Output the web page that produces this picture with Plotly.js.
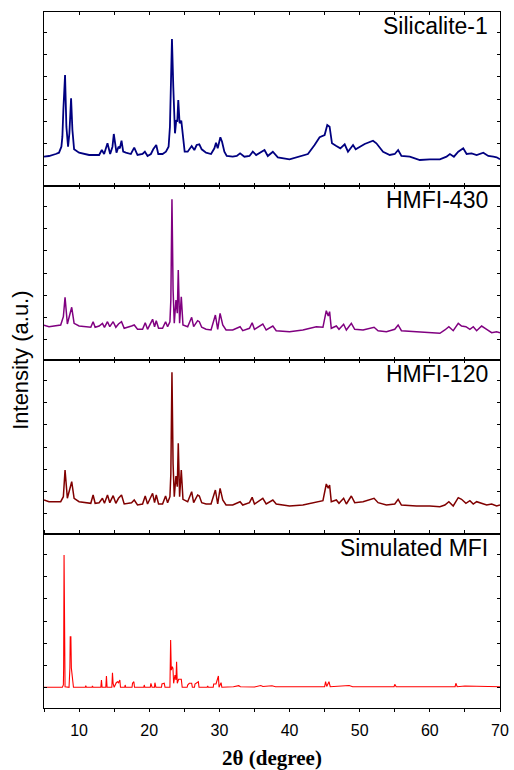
<!DOCTYPE html>
<html>
<head>
<meta charset="utf-8">
<script src="https://cdn.plot.ly/plotly-3.0.1.min.js"></script>
<style>html,body{margin:0;padding:0;background:#fff;}#chart{width:514px;height:770px;}</style>
</head>
<body>
<div id="chart"></div>
<script>
// Sample names (panel labels, top to bottom)
const sampleNames = ["Silicalite-1", "HMFI-430", "HMFI-120", "Simulated MFI"];

// Silicalite-1 pattern: 2θ (degree) and intensity (a.u.)
const sil1X = [5.0,5.71,6.67,7.14,7.48,7.62,7.76,8.0,8.19,8.43,8.62,8.86,9.05,9.29,10.0,11.43,12.86,13.24,13.57,14.05,14.43,14.76,14.95,15.19,15.33,15.62,15.81,16.05,16.29,16.67,17.38,17.86,18.33,19.05,19.38,19.76,20.24,20.57,21.0,21.29,21.9,22.38,22.76,22.95,23.1,23.24,23.43,23.67,23.86,24.0,24.14,24.33,24.57,24.81,25.05,25.48,25.81,26.05,26.43,26.76,27.14,27.48,28.1,28.81,29.29,29.52,29.76,30.14,30.38,30.71,31.05,31.9,32.48,32.95,33.57,34.29,34.76,35.24,36.43,36.9,37.62,38.33,40.0,41.43,42.62,43.57,44.29,45.0,45.38,45.71,46.05,46.67,47.24,47.86,48.33,49.05,49.43,50.71,51.9,52.38,53.33,54.29,55.0,55.48,55.95,57.14,58.57,60.0,61.43,62.38,62.86,63.43,64.05,64.76,65.24,65.95,66.67,67.62,68.33,69.05,69.52,70.0];
const sil1Y = [29.3,30,32,33.3,39.3,49.3,76,111,59.3,39.3,52.7,87.7,56,36.7,33.3,31,31,36,32,42.7,32,39.3,52,36,33.3,39.3,37.7,45.3,34.3,33.3,32,38.3,31,32,34.3,30,32,36.7,41,32,32,34.3,39.3,59.3,112.7,147,99.3,52.7,66,64.3,86,62.7,65.3,46,34.3,34.3,37.7,40,36,41,41.7,36.7,33.3,32,37.7,43.3,37.7,48.7,44.3,34.3,30,29.3,30,32.7,29.3,30,34.3,31,36,30,34.3,28.7,26.7,30,32,41,48.7,51,61,59.3,42.7,40,37.7,41.7,34.3,41,36.7,42,45.3,42.7,34.3,31,32,36,30,29.3,26,26.7,26.7,29.3,32,29.3,34.3,37.7,32,32.7,31,33.3,30,29.3,28.7,26.7];

// HMFI-430 pattern
const h430X = [5.0,5.71,7.38,7.76,8.0,8.33,8.95,9.29,10.0,11.67,12.0,12.29,12.86,13.33,13.62,14.05,14.38,14.86,15.24,15.62,16.05,16.43,17.48,17.86,18.33,19.05,19.43,19.76,20.48,20.76,21.0,21.33,21.9,22.33,22.62,22.95,23.08,23.24,23.4,23.57,23.81,24.0,24.14,24.33,24.57,24.81,25.48,26.05,26.33,26.9,27.14,27.48,28.1,28.81,29.43,29.76,30.1,30.48,30.95,31.9,32.95,33.33,34.29,34.67,35.0,36.19,36.67,37.62,38.1,40.0,41.9,43.81,44.76,45.24,45.52,45.71,45.95,46.67,47.05,47.71,48.1,48.81,49.29,50.48,52.05,52.62,53.81,55.0,55.48,55.95,58.1,60.0,61.43,62.14,62.71,63.33,64.05,64.52,65.14,65.71,66.19,66.67,67.38,68.1,68.81,69.52,70.0];
const h430Y = [34.7,33.3,35,43.3,62.7,36,52.7,36.7,34,32.7,38.3,32.7,34,36.7,32.7,38.3,33.3,38.3,32.7,36,38.3,31.7,34,35,30.7,30.7,37.3,30.7,40.7,33.3,39.3,31.7,31.7,38.3,33.3,38.3,60,160.7,70,36.7,60,46.7,90,36.7,63.3,35,33.3,42.7,33.3,39.3,38.3,32.7,30.7,30,45,30.7,46.7,35,30,30,33.3,29.3,31.7,37.3,30.7,36,30,34,29.3,28.3,30,33.3,32.7,49.3,44,48.3,31.7,34,30.7,35.7,30,36.7,30.7,30,32.7,29.3,28.3,30.7,35,29.3,28.3,27.3,26.7,30,33.3,29.3,36.7,34,33.3,30.7,33.3,29.3,34,30.7,27.3,28.3,27.3];

// HMFI-120 pattern
const h120X = [5.0,5.71,7.38,7.76,8.0,8.33,8.95,9.29,10.0,11.67,12.0,12.29,12.86,13.33,13.62,14.05,14.38,14.86,15.24,15.62,16.05,16.43,17.48,17.86,18.33,19.05,19.43,19.76,20.48,20.76,21.0,21.33,21.9,22.33,22.62,22.95,23.08,23.24,23.4,23.57,23.81,24.0,24.14,24.33,24.57,24.81,25.48,26.05,26.33,26.9,27.14,27.48,28.1,28.81,29.43,29.76,30.1,30.48,30.95,31.9,32.95,33.33,34.29,34.67,35.0,36.19,36.67,37.62,38.1,40.0,41.9,43.81,44.76,45.24,45.52,45.71,45.95,46.67,47.05,47.71,48.1,48.81,49.29,50.48,52.05,52.62,53.81,55.0,55.48,55.95,58.1,60.0,61.43,62.14,62.71,63.33,64.05,64.52,65.14,65.71,66.19,66.67,67.38,68.1,68.81,69.52,70.0];
const h120Y = [34,32.3,32.3,37.3,64,35.7,52.3,35.7,32.3,30.7,39,30.7,31.3,35.7,30.7,39,31.3,38.3,30.7,35.7,39,30,31.3,34,29,30,38,30,40.7,31.3,39,30,30,38,31.3,37.3,60,161.7,70,37.3,58,47.3,90.7,37.3,64,34.7,32.3,42.3,31.3,39,38,31.3,30,30,44,30,45.7,34,29,29,32.3,29,31.3,36.7,30,35.7,30,34,30,28,29,32.3,33.3,50,45.7,49,32.3,34,30.7,35.7,30,38,31.3,32.3,35.7,31.3,29,30,34.7,29,28,28,27.3,29,32.3,28,36.3,34.7,30.7,33.3,30,32.3,30.7,29,30,28,29];

// Simulated MFI pattern
const simX = [5.0,7.62,7.76,7.8,7.86,7.93,8.0,8.57,8.69,8.74,8.83,8.9,8.95,9.05,9.15,9.2,10.9,10.95,11.05,11.85,11.9,12.0,13.1,13.19,13.28,13.81,13.9,13.99,14.67,14.76,14.85,15.0,15.3,15.48,15.62,15.81,15.9,16.5,16.57,16.65,17.55,17.62,17.81,17.9,19.22,19.29,19.38,20.15,20.24,20.4,20.75,20.81,20.95,21.75,21.81,22.14,22.25,22.95,23.05,23.14,23.29,23.38,23.48,23.67,23.81,23.9,24.0,24.19,24.38,24.57,24.7,25.4,25.48,25.71,26.05,26.15,26.45,26.52,27.0,27.1,28.25,28.33,28.42,29.12,29.19,29.52,29.86,29.95,30.24,30.35,32.0,32.76,33.0,35.0,35.9,36.2,37.5,38.0,40.0,45.0,45.14,45.3,45.62,45.8,48.5,49.0,54.9,55.0,55.2,63.6,63.71,63.9,65.0,70.0];
const simY = [20.7,20.7,23,40,153,40,21.3,20.7,40,71.3,71.3,40,36.3,36.3,23,20.7,20.7,22.3,20.7,20.7,22,20.7,20.7,28,20.7,20.7,32,20.7,20.7,35.3,24.7,20.7,25.3,26.3,25.3,28,20.7,20.7,23,20.7,20.7,24.7,26.3,20.7,20.7,23,20.7,20.7,24.7,20.7,20.7,25.3,20.7,20.7,24,24.7,20.7,20.7,68,38,41.3,39.7,24.7,33,28,46.3,24.7,28.7,28.7,28.7,20.7,20.7,23,24.7,24.7,20.7,20.7,24,26.3,20.7,20.7,22,20.7,20.7,24,24,32,20.7,25.3,20.7,21.3,22.3,21.3,21,22.5,21.5,22.3,21.3,21.3,21.3,26.3,21.5,26.3,21.3,22.5,21.3,21.3,23.7,21.3,21.3,24.7,21.3,22,21.3];

const xTickVals = [10, 20, 30, 40, 50, 60, 70];
const xTickText = ["10", "20", "30", "40", "50", "60", "70"];

const seriesX = [sil1X, h430X, h120X, simX];
const seriesY = [sil1Y, h430Y, h120Y, simY];
const colors = ["#000080", "#800080", "#800000", "#ff0000"];
const widths = [1.8, 1.5, 1.5, 1.1];

const traces = [];
for (let i = 0; i < 4; i++) {
  const n = i === 0 ? "" : String(i + 1);
  traces.push({
    x: seriesX[i], y: seriesY[i], type: "scatter", mode: "lines",
    name: sampleNames[i], xaxis: "x" + n, yaxis: "y" + n,
    line: {color: colors[i], width: widths[i]}, hoverinfo: "x+y"
  });
}

const layout = {
  width: 514, height: 770,
  margin: {l: 44, r: 14, t: 12, b: 62},
  paper_bgcolor: "#ffffff", plot_bgcolor: "#ffffff",
  showlegend: false,
  font: {family: "Liberation Sans, Arial, sans-serif", size: 16, color: "#000"},
  annotations: []
};

for (let i = 0; i < 4; i++) {
  const n = i === 0 ? "" : String(i + 1);
  const top = 1 - i * 0.25;
  const isBottom = i === 3;
  layout["yaxis" + n] = {
    domain: [top - 0.25, top], range: [0, 174], anchor: "x" + n,
    showline: true, linecolor: "#000", linewidth: 1.3, mirror: "ticks",
    ticks: "inside", ticklen: 3, tickwidth: 1, tickcolor: "#000",
    tick0: 20.3, dtick: 22.2, showticklabels: false,
    showgrid: false, zeroline: false, fixedrange: true
  };
  layout["xaxis" + n] = {
    domain: [0, 1], range: [5, 70], anchor: "y" + n,
    showline: true, linecolor: "#000", linewidth: 1.3, mirror: "ticks",
    ticks: isBottom ? "outside" : "inside", ticklen: 3, tickwidth: 1, tickcolor: "#000",
    tick0: 5, dtick: 5,
    showticklabels: false,
    showgrid: false, zeroline: false, fixedrange: true
  };
  layout.annotations.push({
    text: sampleNames[i], xref: "x" + n + " domain", yref: "y" + n + " domain",
    x: 0.977, y: 1, xanchor: "right", yanchor: "middle", yshift: -14,
    showarrow: false, font: {family: "Liberation Sans, Arial, sans-serif", size: 23, color: "#000"}
  });
}

// bottom axis labels via overlay axis with labelled ticks
layout.xaxis5 = {
  overlaying: "x4", anchor: "y4", side: "bottom", range: [5, 70],
  tickmode: "array", tickvals: xTickVals, ticktext: xTickText,
  ticks: "", showline: false, showgrid: false, zeroline: false,
  tickfont: {family: "Liberation Sans, Arial, sans-serif", size: 16, color: "#000"},
  ticklabelstandoff: 11,
  title: {text: "<b>2θ (degree)</b>", font: {family: "Liberation Serif, Times New Roman, serif", size: 21, color: "#000"}, standoff: 12},
  fixedrange: true
};
traces.push({x: [], y: [], type: "scatter", mode: "lines", xaxis: "x5", yaxis: "y4", showlegend: false, hoverinfo: "skip"});

layout.annotations.push({
  text: "Intensity (a.u.)", xref: "paper", yref: "paper",
  x: -0.053, y: 0.5, xanchor: "center", yanchor: "middle", textangle: -90,
  showarrow: false, font: {family: "Liberation Sans, Arial, sans-serif", size: 22, color: "#000"}
});

Plotly.newPlot("chart", traces, layout, {displayModeBar: false, staticPlot: true});
</script>
</body>
</html>
